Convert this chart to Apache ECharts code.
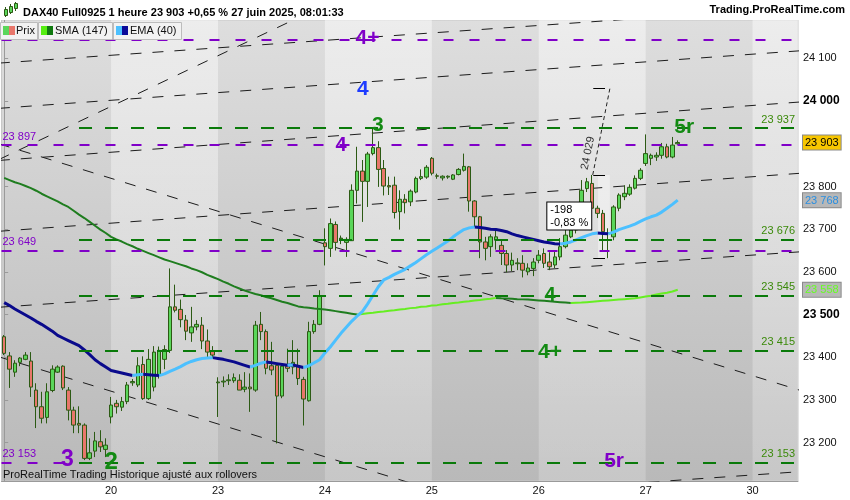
<!DOCTYPE html>
<html><head><meta charset="utf-8">
<script src="https://cdn.jsdelivr.net/npm/echarts@6/dist/echarts.min.js"></script>
<style>html,body{margin:0;padding:0;background:#fff}#c{width:850px;height:500px}</style>
</head><body><div id="c"></div>
<script>
const days = ['19','20','23','24','25','26','27','30'];
const hours = ['02','03','04','05','06','07','08','09','10','11','12','13','14','15','16','17','18','19','20','21'];
const opens = [23448,23403,23365,23388,23395,23391,23323,23284,23259,23322,23365,23379,23323,23276,23245,23241,23163,23180,23202,23184,
 23260,23292,23283,23296,23340,23335,23383,23303,23330,23358,23395,23416,23518,23512,23487,23457,23471,23475,23438,23414,
 23340,23342,23345,23345,23346,23325,23330,23323,23477,23460,23380,23381,23309,23379,23377,23379,23348,23298,23460,23477,
 23668,23655,23711,23677,23669,23673,23791,23836,23812,23877,23891,23842,23802,23803,23741,23770,23764,23787,23819,23822,
 23866,23825,23820,23822,23817,23828,23838,23846,23766,23729,23670,23659,23674,23662,23643,23616,23619,23620,23600,23608,
 23627,23643,23623,23616,23635,23659,23682,23698,23744,23795,23807,23749,23737,23690,23682,23749,23776,23782,23796,23819,
 23854,23866,23869,23873,23893,23869,23900];
const closes = [23409,23372,23386,23398,23405,23330,23284,23257,23319,23372,23377,23328,23276,23241,23241,23163,23176,23204,23190,23194,
 23288,23284,23296,23335,23343,23380,23303,23395,23412,23416,23418,23518,23510,23488,23461,23471,23477,23438,23412,23405,
 23342,23344,23347,23352,23323,23330,23326,23475,23460,23374,23370,23309,23379,23374,23388,23350,23302,23460,23477,23543,
 23659,23713,23669,23679,23676,23791,23836,23812,23876,23891,23840,23801,23799,23739,23770,23762,23789,23819,23823,23845,
 23831,23824,23824,23824,23827,23840,23847,23766,23729,23670,23655,23682,23682,23643,23616,23627,23621,23604,23609,23623,
 23639,23620,23612,23635,23659,23686,23698,23726,23791,23811,23749,23737,23694,23691,23752,23780,23784,23798,23819,23838,
 23877,23873,23873,23893,23869,23897,23903];
const lows = [23405,23328,23354,23379,23393,23307,23234,23245,23245,23318,23363,23323,23252,23222,23222,23159,23159,23166,23178,23166,
 23245,23268,23274,23290,23333,23330,23300,23300,23320,23350,23372,23410,23505,23470,23440,23436,23463,23419,23398,23398,
 23260,23330,23335,23340,23323,23318,23272,23319,23440,23360,23358,23198,23304,23365,23360,23335,23240,23296,23455,23475,
 23615,23635,23650,23665,23635,23673,23760,23717,23752,23873,23799,23779,23780,23725,23699,23737,23754,23784,23815,23818,
 23826,23818,23814,23818,23815,23826,23835,23741,23705,23632,23627,23635,23652,23616,23599,23602,23604,23587,23592,23590,
 23620,23609,23604,23609,23627,23655,23679,23690,23733,23787,23740,23726,23650,23632,23674,23742,23768,23778,23793,23815,
 23848,23850,23860,23865,23866,23866,23898];
const highs = [23452,23412,23393,23400,23412,23412,23339,23319,23339,23381,23381,23381,23330,23284,23285,23245,23210,23225,23229,23210,
 23307,23300,23307,23342,23349,23400,23402,23419,23426,23425,23428,23608,23570,23535,23499,23518,23487,23494,23465,23426,
 23353,23355,23360,23362,23360,23365,23362,23485,23506,23465,23436,23385,23386,23420,23440,23420,23354,23483,23487,23557,
 23702,23725,23718,23685,23681,23805,23893,23862,23881,23936,23906,23862,23823,23823,23791,23782,23793,23823,23840,23850,
 23869,23830,23826,23826,23829,23843,23877,23848,23768,23731,23682,23688,23700,23674,23651,23645,23632,23639,23620,23632,
 23651,23655,23646,23651,23679,23702,23716,23740,23815,23820,23827,23755,23745,23702,23756,23784,23803,23805,23826,23843,
 23922,23877,23880,23902,23900,23916,23908];
const sma147 = [23820,23815,23810,23806,23801,23796,23790,23783,23777,23771,23765,23758,23752,
 23743,23734,23726,23717,23708,23699,23691,23682,23676,23671,23665,23660,23654,
 23649,23644,23639,23634,23629,23625,23621,23617,23613,23608,23604,
 23599,23593,23588,23583,23577,23572,23566,23561,23556,23552,23548,23545,23541,23538,23534,
 23530,23527,23523,23519,23517,23516,23514,23513,23512,23510,23508,23506,23504,23502,23500,
 23501,23503,23504,23506,23507,23509,23510,23512,23513,23515,23516,23518,23519,23521,23522,23524,23525,
 23527,23528,23530,23531,23533,23534,23536,23537,23539,
 23538,23537.5,23537,23536,23535.5,23535,23534,
 23533,23532,23531,23530,23529,23528,23527,
 23527.5,23528,23529,23530,23531,23532,23533,23534,23535,23536,23537,23538,
 23540,23542,23544,23547,23549,23551,23554,23558];
const ema40 = [23528,23521,23513,23506,23499,23492,23484,23477,23469,23461,23451,
 23445,23439,23433,23427,23417,23406,23394,23385,23377,23369,23366,23363,23360,
 23357,23359,23360,23359,23358,23357,23361,23367,
 23372,23378,23385,23390,23394,23397,23398,23399,
 23397,23395,23392,23389,23385,23381,23377,23381,23386,23389,
 23387,23385,23383,23381,23382,23379,23376,23380,23387,23394,
 23410,23424,23440,23456,23470,23484,23496,23507,23525,23545,23565,
 23581,23587,23594,23600,23606,23614,23622,23631,23640,23648,23656,23664,23672,23682,23691,23699,23703,23705,
 23704,23702,23700,23699,23697,23694,23689,23685,23682,23679,23676,23673,23670,23668,23666,23665,
 23667,23670,23675,23680,23685,23689,23691,23690,23689,
 23693,23699,23703,23707,23712,23718,23724,23729,23733,23740,23749,23758,23768];
const yTicks = [23200,23300,23400,23500,23600,23700,23800,23900,24000,24100];
const boldTicks = [23500,24000];
const purpleLevels = [24144,23897,23649,23153];
const greenLevels = [23937,23676,23545,23415,23153];
const greenStartSlot = 14;
const trendLines = [
 [[-1,24089],[149,24220]],
 [[-1,23983],[149,24118]],
 [[-1,23861],[149,23998]],
 [[-1,23695],[149,23831]],
 [[-1,23517],[149,23647]],
 [[100,23089],[149,23132]],
 [[-1,23900],[149,23322]],
 [[-1,23401],[80,23090]],
 [[-1,23863],[60,24225]]
];
const waveLabels = [
 ['4+',67.97,24147,'purple'],
 ['4',67.1,24028,'blue'],
 ['3',69.9,23943,'green'],
 ['4',63.0,23897,'purple'],
 ['5r',127.2,23939,'green'],
 ['4',102.1,23545,'green'],
 ['4+',102.1,23411,'green'],
 ['3',11.85,23159,'purple'],
 ['2',20.0,23154,'green'],
 ['5r',114.1,23157,'purple']
];
const toolHigh = 24029, toolMid = 23827, toolLow = 23631;
const toolSlots = [110.1,113.3];
const toolTickSlots = [110.2,112.4];
const toolRectSlots = [111.1,113.3];
const toolText = '24 029';
const toolTextAnchor = [109.2,23878];
const boxText = '-198\n-0,83 %';
const boxAnchor = [101.7,23761];

const N = 149;
const categories = [];
for (const d of days) for (const h of hours) if (categories.length < N) categories.push(d + ' ' + h + ':00');
const F = '"Liberation Sans", Arial, Helvetica, sans-serif';
const fmt = v => String(Math.round(v)).replace(/\B(?=(\d{3})+(?!\d))/g, ' ');
const C = {purple:'#8000c8', blue:'#1f3cff', green:'#138a13'};
const waveSize = [21,21,21,20,21,20,21,23,24,21];

const candleData = opens.map((o,i)=>[o, closes[i], lows[i], highs[i]]);
const lastClose = closes[closes.length-1], lastEma = ema40[ema40.length-1], lastSma = sma147[sma147.length-1];
const tagVals = [lastClose, lastEma, lastSma];
const labelValues = yTicks.filter(v => tagVals.every(t => Math.abs(t - v) > 25)).concat(tagVals);

function splitTrend(arr){
  const up = arr.map(()=>null), dn = arr.map(()=>null);
  let prev = 1;
  for (let i=0;i<arr.length-1;i++){
    let d = Math.sign(arr[i+1]-arr[i]); if (d===0) d = prev; prev = d;
    const t = d>0 ? up : dn; t[i] = arr[i]; t[i+1] = arr[i+1];
  }
  return {up, dn};
}
const smaS = splitTrend(sma147), emaS = splitTrend(ema40);
const isDayStart = (i) => i > 0 && i % 20 === 0;

const grad = (a,b) => new echarts.graphic.LinearGradient(0,0,0,1,[{offset:0,color:a},{offset:1,color:b}]);

const chart = echarts.init(document.getElementById('c'));
const series = [];
trendLines.forEach((l,i)=>{
  const s = {type:'line', xAxisIndex:1, data:l, symbol:'none', silent:true, z:1, clip:true,
    lineStyle:{color:'#1c1c1c', width:1, type:[11,11]}};
  if (i===0) s.markArea = {silent:true, itemStyle:{color:grad('rgba(255,255,255,0.45)','rgba(255,255,255,0.2)')},
    data:[[{xAxis:20},{xAxis:40}],[{xAxis:60},{xAxis:80}],[{xAxis:100},{xAxis:120}],[{xAxis:140},{xAxis:N-0.5}]]};
  series.push(s);
});
series.push({type:'line', xAxisIndex:1, data:[], z:2, silent:true,
  markLine:{symbol:'none', silent:true, animation:false,
    lineStyle:{color:C.purple, width:2, type:[10,16]},
    label:{position:'insideStartTop', formatter:'{b}', color:C.purple, fontSize:11, fontFamily:F, distance:[1,3]},
    data: purpleLevels.map(v=>({yAxis:v, name:fmt(v)}))}});
series.push({type:'line', xAxisIndex:1, data:[], z:2, silent:true,
  markLine:{symbol:'none', silent:true, animation:false,
    lineStyle:{color:'#0a7a0a', width:2, type:[13,13]},
    label:{position:'insideEndTop', formatter:'{b}', color:'#3b8a0a', fontSize:11, fontFamily:F, distance:[3,3]},
    data: greenLevels.map(v=>[{coord:[greenStartSlot,v], name:fmt(v)},{coord:[N-0.5,v]}])}});
series.push({type:'candlestick', name:'Prix', data:candleData, barWidth:4, z:3,
  itemStyle:{color:'#5ad65a', color0:'#e8776b', borderColor:'#2c5a14', borderColor0:'#2c5a14', borderWidth:1}});
series.push({type:'line', data:smaS.dn, symbol:'none', z:4, connectNulls:false, lineStyle:{color:'#1f7d1f', width:2}});
series.push({type:'line', data:smaS.up, symbol:'none', z:4, connectNulls:false, lineStyle:{color:'#66ee22', width:2}});
series.push({type:'line', data:emaS.dn, symbol:'none', z:4, connectNulls:false, lineStyle:{color:'#0a0a8c', width:3}});
series.push({type:'line', data:emaS.up, symbol:'none', z:4, connectNulls:false, lineStyle:{color:'#4cc0ff', width:3}});
series.push({type:'line', xAxisIndex:1, data:[], z:6, silent:true,
  markArea:{silent:true, itemStyle:{color:'rgba(255,255,255,0.4)'},
    data:[[{coord:[toolRectSlots[0],toolLow]},{coord:[toolRectSlots[1],toolMid]}]]},
  markLine:{symbol:'none', silent:true, animation:false, label:{show:false},
    lineStyle:{color:'#000', width:1, type:'solid'},
    data:[
      [{coord:[toolSlots[0],toolMid], lineStyle:{type:[4,3], color:'#222'}},{coord:[toolSlots[1],toolHigh]}],
      [{coord:[toolTickSlots[0],toolHigh]},{coord:[toolTickSlots[1],toolHigh]}],
      [{coord:[toolTickSlots[0],toolMid]},{coord:[toolTickSlots[1],toolMid]}],
      [{coord:[toolTickSlots[0],toolLow]},{coord:[toolTickSlots[1],toolLow]}]
    ]},
  markPoint:{symbol:'rect', symbolSize:1, silent:true, animation:false, itemStyle:{color:'rgba(0,0,0,0)'},
    data: waveLabels.map((w,i)=>({coord:[w[1],w[2]], value:w[0],
        label:{show:true, position:'inside', formatter:'{c}', color:C[w[3]], fontSize:waveSize[i], fontWeight:'bold', fontFamily:F}}))
      .concat([
        {coord:toolTextAnchor, value:toolText, label:{show:true, position:'inside', formatter:'{c}', rotate:78, color:'#333', fontSize:11, fontFamily:F}},
        {coord:boxAnchor, value:boxText, label:{show:true, position:[0,0], align:'left', verticalAlign:'top', formatter:'{c}', color:'#000', fontSize:11, lineHeight:13, fontFamily:F,
          backgroundColor:'#fff', borderColor:'#000', borderWidth:1, padding:[1,3,0,3]}}
      ])}});

const option = {
  animation:false,
  backgroundColor:'#ffffff',
  grid:{left:1.5, right:52, top:20, bottom:19, show:true, borderWidth:1, borderColor:'#c8c8c8',
    backgroundColor: grad('#dedede','#b9b9b9')},
  xAxis:[
    {type:'category', data:categories, boundaryGap:true,
     axisLine:{lineStyle:{color:'#9a9a9a'}},
     axisTick:{interval:isDayStart, alignWithLabel:true, length:4, lineStyle:{color:'#9a9a9a'}},
     axisLabel:{interval:isDayStart, formatter:(v)=>v.split(' ')[0], color:'#111', fontSize:11, fontFamily:F, margin:4},
     splitLine:{show:false}},
    {type:'value', min:-0.5, max:N-0.5, show:false, splitLine:{show:false}}
  ],
  yAxis:{type:'value', position:'right', min:23110, max:24190, scale:true,
    axisLine:{show:true, lineStyle:{color:'#9a9a9a'}},
    axisTick:{show:true, length:4, customValues:yTicks, lineStyle:{color:'#9a9a9a'}},
    splitLine:{show:false},
    axisLabel:{customValues:labelValues, margin:5, fontFamily:F,
      formatter:(v)=>{
        if (v===lastClose) return '{cur|'+fmt(v)+'}';
        if (v===lastEma) return '{ema|'+fmt(v)+'}';
        if (v===lastSma) return '{sma|'+fmt(v)+'}';
        if (boldTicks.indexOf(v)>=0) return '{b|'+fmt(v)+'}';
        return '{n|'+fmt(v)+'}';
      },
      rich:{
        n:{fontSize:11, color:'#111', fontFamily:F},
        b:{fontSize:12, fontWeight:'bold', color:'#000', fontFamily:F},
        cur:{fontSize:11, color:'#000', fontFamily:F, backgroundColor:'#f7c600', borderColor:'#8a8a8a', borderWidth:1, padding:[2,2,1,2]},
        ema:{fontSize:11, color:'#2b8fe0', fontFamily:F, backgroundColor:'#b8b8b8', borderColor:'#8a8a8a', borderWidth:1, padding:[2,2,1,2]},
        sma:{fontSize:11, color:'#66ff22', fontFamily:F, backgroundColor:'#b8b8b8', borderColor:'#8a8a8a', borderWidth:1, padding:[2,2,1,2]}
      }}},
  series: series,
  graphic:[
    {type:'rect', left:0, top:0, z:50, shape:{width:850, height:20}, style:{fill:'#fff'}},
    {type:'rect', left:5, top:7, z:51, shape:{width:1, height:10}, style:{fill:'#2c5a14'}},
    {type:'rect', left:4, top:9, z:52, shape:{width:3, height:6}, style:{fill:'#5ad65a', stroke:'#2c5a14', lineWidth:1}},
    {type:'rect', left:10, top:4, z:51, shape:{width:1, height:10}, style:{fill:'#2c5a14'}},
    {type:'rect', left:9, top:6, z:52, shape:{width:3, height:6}, style:{fill:'#5ad65a', stroke:'#2c5a14', lineWidth:1}},
    {type:'rect', left:15, top:2, z:51, shape:{width:1, height:9}, style:{fill:'#2c5a14'}},
    {type:'rect', left:14, top:3, z:52, shape:{width:3, height:5}, style:{fill:'#5ad65a', stroke:'#2c5a14', lineWidth:1}},
    {type:'text', left:23, top:7, z:52, style:{text:'DAX40 Full0925 1 heure 23 903 +0,65 % 27 juin 2025, 08:01:33', font:'bold 11px '+F, fill:'#000'}},
    {type:'text', right:5, top:4, z:52, style:{text:'Trading.ProRealTime.com', font:'bold 11px '+F, fill:'#000'}},
    {type:'rect', left:0, top:22, z:52, shape:{width:37, height:17}, style:{fill:'#f2f2f2', stroke:'#bcbcbc', lineWidth:1}},
    {type:'rect', left:3, top:26, z:53, shape:{width:6, height:9}, style:{fill:'#5ad65a'}},
    {type:'rect', left:9, top:26, z:53, shape:{width:6, height:9}, style:{fill:'#e8776b'}},
    {type:'text', left:16, top:25, z:53, style:{text:'Prix', font:'11px '+F, fill:'#111'}},
    {type:'rect', left:38, top:22, z:52, shape:{width:74, height:17}, style:{fill:'#f2f2f2', stroke:'#bcbcbc', lineWidth:1}},
    {type:'rect', left:41, top:26, z:53, shape:{width:6, height:9}, style:{fill:'#55ee11'}},
    {type:'rect', left:47, top:26, z:53, shape:{width:6, height:9}, style:{fill:'#107a10'}},
    {type:'text', left:55, top:25, z:53, style:{text:'SMA (147)', font:'11px '+F, fill:'#111'}},
    {type:'rect', left:113, top:22, z:52, shape:{width:68, height:17}, style:{fill:'#f2f2f2', stroke:'#bcbcbc', lineWidth:1}},
    {type:'rect', left:116, top:26, z:53, shape:{width:6, height:9}, style:{fill:'#4cc0ff'}},
    {type:'rect', left:122, top:26, z:53, shape:{width:6, height:9}, style:{fill:'#0a0a99'}},
    {type:'text', left:130, top:25, z:53, style:{text:'EMA (40)', font:'11px '+F, fill:'#111'}},
    {type:'text', left:3, top:469, z:53, style:{text:'ProRealTime Trading Historique ajusté aux rollovers', font:'11px '+F, fill:'#111'}}
  ]
};
chart.setOption(option);
</script></body></html>
